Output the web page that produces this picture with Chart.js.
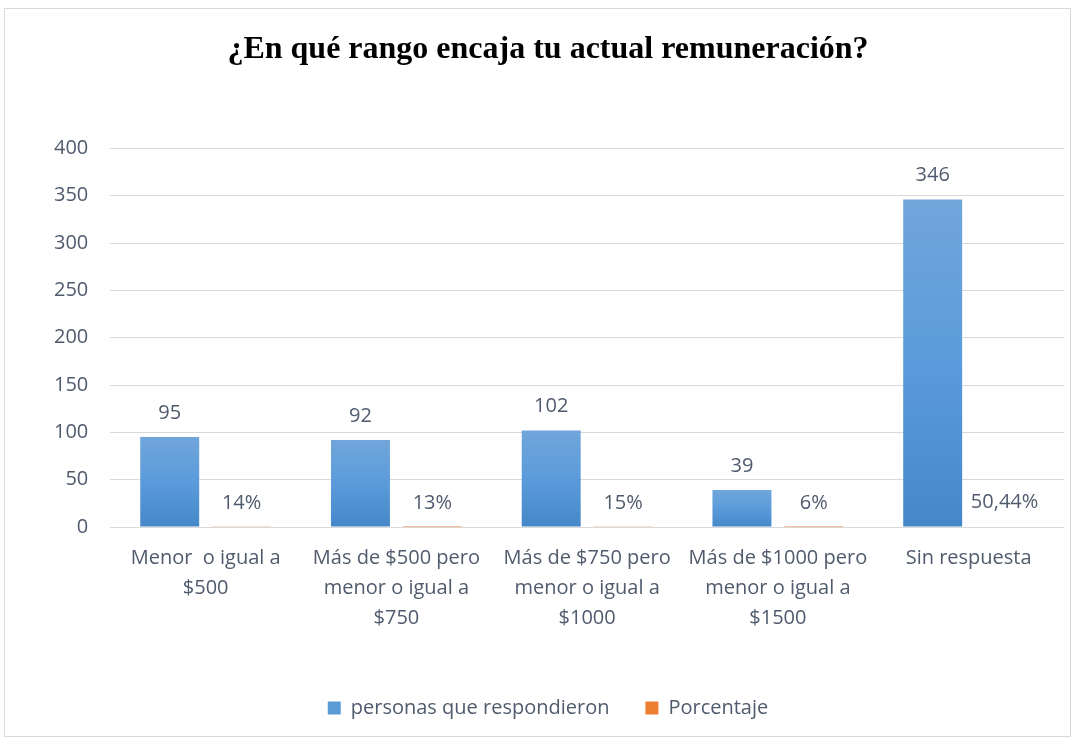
<!DOCTYPE html>
<html>
<head>
<meta charset="utf-8">
<script src="https://cdn.jsdelivr.net/npm/chart.js@4.4.1/dist/chart.umd.min.js"></script>
<style>
    html, body { margin: 0; padding: 0; background: #fff; }
    #frame {
        position: absolute;
        left: 4px; top: 8px;
        width: 1067px; height: 729px;
        border: 1px solid #d9d9d9;
        box-sizing: border-box;
    }
    #chart { display: block; }
</style>
</head>
<body>
<div id="frame"><canvas id="chart" width="1065" height="727"></canvas></div>
<script>
// Data
const categories = [
    ['Menor  o igual a', '$500'],
    ['Más de $500 pero', 'menor o igual a', '$750'],
    ['Más de $750 pero', 'menor o igual a', '$1000'],
    ['Más de $1000 pero', 'menor o igual a', '$1500'],
    ['Sin respuesta']
];
const personas = [95, 92, 102, 39, 346];
const porcentaje = [0.14, 0.13, 0.15, 0.06, 0.5044];
const yTicks = [0, 50, 100, 150, 200, 250, 300, 350, 400];

const textColor = '#4f5b6d';
const labelFont = "'Open Sans', Lato, sans-serif";

function pctText(v) {
    return parseFloat((v * 100).toFixed(2)).toString().replace('.', ',') + '%';
}

// gradient per bar, lighter at the top like the Office style
function barGradient(ctx) {
    const chart = ctx.chart;
    if (!chart.chartArea || ctx.type !== 'data') return '#5b9bd5';
    const yScale = chart.scales.y;
    const top = yScale.getPixelForValue(ctx.raw);
    const bottom = yScale.getPixelForValue(0);
    if (!isFinite(top) || Math.abs(bottom - top) < 1) return '#5b9bd5';
    const g = chart.ctx.createLinearGradient(0, top, 0, bottom);
    g.addColorStop(0, '#70a6da');
    g.addColorStop(0.5, '#5b9bdb');
    g.addColorStop(1, '#4587c8');
    return g;
}

const valueLabels = {
    id: 'valueLabels',
    afterDatasetsDraw(chart) {
        const ctx = chart.ctx;
        ctx.save();
        ctx.font = '20px ' + labelFont;
        ctx.fillStyle = textColor;
        ctx.textAlign = 'center';
        ctx.textBaseline = 'middle';
        chart.data.datasets.forEach((ds, i) => {
            const meta = chart.getDatasetMeta(i);
            meta.data.forEach((bar, j) => {
                const v = ds.data[j];
                const txt = i === 0 ? String(v) : pctText(v);
                ctx.fillText(txt, bar.x, bar.y - 24);
            });
        });
        ctx.restore();
    }
};

new Chart(document.getElementById('chart').getContext('2d'), {
    type: 'bar',
    data: {
        labels: categories,
        datasets: [{
            label: 'personas que respondieron',
            data: personas,
            backgroundColor: barGradient,
            borderWidth: 0
        }, {
            label: 'Porcentaje',
            data: porcentaje,
            backgroundColor: '#ed7d31',
            borderWidth: 0
        }]
    },
    options: {
        responsive: false,
        animation: false,
        barPercentage: 0.82,
        categoryPercentage: 0.754,
        layout: {
            padding: { left: 27, right: 6, top: 0, bottom: 8 }
        },
        plugins: {
            title: {
                display: true,
                text: '¿En qué rango encaja tu actual remuneración?',
                color: '#000',
                font: { family: "'Liberation Serif', 'Times New Roman', serif", size: 32, weight: 'bold' },
                padding: { top: 22, bottom: 79 }
            },
            legend: {
                position: 'bottom',
                labels: {
                    color: textColor,
                    font: { family: labelFont, size: 20 },
                    boxWidth: 13,
                    boxHeight: 13,
                    padding: 36,
                    generateLabels(chart) {
                        const items = Chart.defaults.plugins.legend.labels.generateLabels(chart);
                        items[0].fillStyle = '#5b9bd5';
                        return items;
                    }
                }
            },
            tooltip: { enabled: false }
        },
        scales: {
            x: {
                grid: { display: false },
                border: { display: false },
                afterFit(axis) {
                    axis.height += 21;
                },
                ticks: {
                    color: textColor,
                    font: { family: labelFont, size: 20, lineHeight: 1.5 },
                    padding: 8,
                    maxRotation: 0,
                    autoSkip: false
                }
            },
            y: {
                min: 0,
                max: 400,
                afterBuildTicks(axis) {
                    axis.ticks = yTicks.map(v => ({ value: v }));
                },
                grid: { color: '#d9d9d9', lineWidth: 1, drawTicks: false },
                border: { display: false },
                ticks: {
                    color: textColor,
                    font: { family: labelFont, size: 20 },
                    padding: 22
                }
            }
        }
    },
    plugins: [valueLabels]
});
</script>
</body>
</html>
